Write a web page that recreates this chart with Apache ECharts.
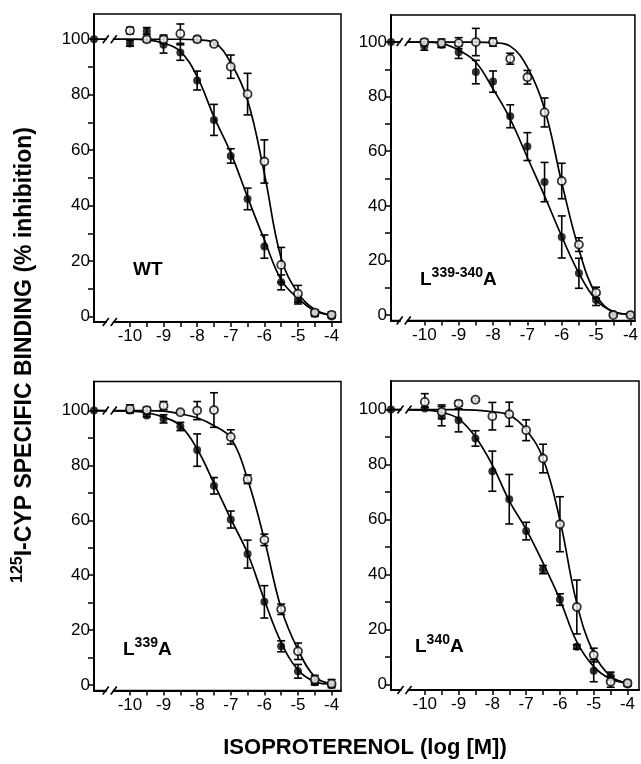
<!DOCTYPE html>
<html><head><meta charset="utf-8">
<script src="https://cdn.jsdelivr.net/npm/echarts@6/dist/echarts.min.js"></script>
<style>html,body{margin:0;padding:0;background:#fff}#c{width:641px;height:764px}</style>
</head><body><div id="c"></div>
<script>
// ---------- DATA ----------
const concLog = [-10, -9.5, -9, -8.5, -8, -7.5, -7, -6.5, -6, -5.5, -5, -4.5, -4];
const xTickLabels = [-10, -9, -8, -7, -6, -5, -4];
const xTickMarks = [-10, -9.5, -9, -8.5, -8, -7.5, -7, -6.5, -6, -5.5, -5, -4.5, -4];
const yTickLabels = [0, 20, 40, 60, 80, 100];
const yTickMarks = [0, 10, 20, 30, 40, 50, 60, 70, 80, 90, 100];
const controlValue = 100;

const panelMain = ['WT', 'L', 'L', 'L'];
const panelSup = ['', '339-340', '339', '340'];
const panelSuffix = ['', 'A', 'A', 'A'];

// WT
const wtFilled    = [98.5, 103, 98, 95.2, 85.1, 70.9, 57.9, 42.4, 25.2, 12.3, 6, 1, 0];
const wtFilledErr = [1, 1.2, 3, 2.8, 3.4, 5.6, 2.6, 3.9, 4.2, 2.7, 1.5, 1, 0.5];
const wtOpen      = [103.1, 100, 100, 102, 100, 98.3, 90.1, 80.2, 55.9, 18.6, 8.2, 1.4, 0.6];
const wtOpenErr   = [1.2, 1, 1.5, 3.5, 1, 0.5, 4.2, 7.5, 7.8, 6.3, 3, 1, 1];
const wtFilledFit = [100, 99.8, 98.6, 95.6, 86.5, 72, 59, 43, 27.6, 13.2, 6.5, 2, 0.5];
const wtOpenFit   = [100, 100, 100, 100, 99.8, 98.8, 91.5, 78, 51.5, 21, 8.4, 2.5, 0.5];

// L339-340A
const dFilled    = [98.5, 99, 96.3, 89, 85.5, 72.8, 61.7, 48.7, 28.6, 15.3, 5.5, 0.4, 0];
const dFilledErr = [1.5, 1, 2.3, 4.3, 3.9, 4.2, 5.1, 7.2, 7.7, 5.5, 2, 0.5, 0.5];
const dOpen      = [100, 99.6, 99.6, 100, 100, 93.9, 87.1, 74.2, 49.1, 25.8, 8.2, 0, 0];
const dOpenErr   = [1, 1.5, 2, 5, 1.5, 2, 2.5, 5.3, 6.5, 2.5, 2, 0.5, 0.5];
const dFilledFit = [100, 99.5, 97, 92.6, 82.8, 71.8, 57.7, 43.6, 28.8, 15.3, 5.5, 1.2, 0.3];
const dOpenFit   = [100, 100, 100, 100, 99.8, 98.5, 90.8, 75.5, 48.5, 24, 7.4, 1.2, 0.3];

// L339A
const aFilled    = [100, 98.2, 97, 94.2, 85.6, 72.6, 60.3, 47.7, 30.3, 14.1, 5, 1, 0];
const aFilledErr = [0.5, 0.5, 1.5, 1.5, 5.9, 3, 3.1, 5.1, 5.9, 2, 2.5, 1, 0.5];
const aOpen      = [100.6, 100.2, 101.8, 99.4, 100, 100.2, 90.4, 75, 52.9, 27.6, 12.3, 2, 0.5];
const aOpenErr   = [1.5, 1, 1.5, 0.5, 3.3, 6.3, 2.6, 1.6, 2.1, 1.9, 3, 1.5, 1.5];
const aFilledFit = [99.8, 99.2, 97.6, 94.5, 86, 73.5, 60.5, 48, 31, 15.5, 5.5, 1.2, 0.3];
const aOpenFit   = [100, 100, 99.8, 98.8, 97.4, 94.5, 90, 75, 53, 27.9, 12.9, 3, 0.5];

// L340A
const bFilled    = [100.4, 97.6, 96.1, 89.5, 77.6, 67.4, 55.8, 41.8, 30.9, 13.7, 5, 3, 0];
const bFilledErr = [0.5, 3.5, 4.2, 2.8, 7.3, 9, 3.2, 1.5, 2.1, 0.8, 4, 1.5, 0.5];
const bOpen      = [102.8, 99.2, 102.2, 103.6, 97.6, 98.3, 92.5, 82.2, 58.3, 28.2, 10.7, 1, 0.5];
const bOpenErr   = [3, 2.5, 1, 0.5, 5, 4.4, 3.8, 5.2, 10, 9.8, 2.5, 2, 1];
const bFilledFit = [99.8, 99, 96.6, 90, 79.8, 66.8, 56.4, 44.2, 30.9, 15.5, 6.5, 2, 0.5];
const bOpenFit   = [100, 100, 100, 99.8, 99.2, 98, 92.7, 82.2, 59.8, 29.5, 11.3, 3, 0.5];

// ---------- LAYOUT ----------
const FONT = '"Liberation Sans", Arial, Helvetica, sans-serif';
const layouts = [
  {left: 94,  top: 14,    width: 247, height: 308, xMin: -11.07, xMax: -3.72, yMax: 109.1, lx: 133, ly: 272},
  {left: 391, top: 15,    width: 248, height: 305.5, xMin: -10.97, xMax: -3.87, yMax: 109.9, lx: 420, ly: 278},
  {left: 94,  top: 381.5, width: 247, height: 309, xMin: -11.07, xMax: -3.72, yMax: 110.6, lx: 123, ly: 648},
  {left: 391, top: 381,   width: 248, height: 309, xMin: -11.0, xMax: -3.66, yMax: 110.4, lx: 415, ly: 645}
];
const yMin = -2;
const breakX = -10.6;

const panelData = [
  {f: wtFilled, fe: wtFilledErr, o: wtOpen, oe: wtOpenErr, ff: wtFilledFit, of: wtOpenFit},
  {f: dFilled, fe: dFilledErr, o: dOpen, oe: dOpenErr, ff: dFilledFit, of: dOpenFit},
  {f: aFilled, fe: aFilledErr, o: aOpen, oe: aOpenErr, ff: aFilledFit, of: aOpenFit},
  {f: bFilled, fe: bFilledErr, o: bOpen, oe: bOpenErr, ff: bFilledFit, of: bOpenFit}
];

function pairs(ys) { return concLog.map((x, k) => [x, ys[k]]); }
function triples(ys, es) { return concLog.map((x, k) => [x, ys[k], es[k]]); }

function errRender(params, api) {
  const x = api.value(0), y = api.value(1), e = api.value(2);
  const lo = api.coord([x, y - e]), hi = api.coord([x, y + e]);
  const w = 4;
  const st = {stroke: '#000', lineWidth: 1.6};
  return {type: 'group', children: [
    {type: 'line', shape: {x1: lo[0], y1: lo[1], x2: hi[0], y2: hi[1]}, style: st},
    {type: 'line', shape: {x1: lo[0] - w, y1: lo[1], x2: lo[0] + w, y2: lo[1]}, style: st},
    {type: 'line', shape: {x1: hi[0] - w, y1: hi[1], x2: hi[0] + w, y2: hi[1]}, style: st}
  ]};
}
function breakRender(params, api) {
  const p = api.coord([api.value(0), api.value(1)]);
  const st = {stroke: '#000', lineWidth: 1.6};
  return {type: 'group', children: [
    {type: 'rect', shape: {x: p[0] - 3, y: p[1] - 3, width: 6, height: 6}, style: {fill: '#fff'}},
    {type: 'line', shape: {x1: p[0] - 7, y1: p[1] + 4, x2: p[0] - 1, y2: p[1] - 4}, style: st},
    {type: 'line', shape: {x1: p[0] + 1, y1: p[1] + 4, x2: p[0] + 7, y2: p[1] - 4}, style: st}
  ]};
}

const grids = [], xAxes = [], yAxes = [], series = [], graphics = [];
layouts.forEach((L, i) => {
  grids.push({left: L.left, top: L.top, width: L.width, height: L.height,
    show: true, borderColor: '#000', borderWidth: 1.5, backgroundColor: 'transparent'});
  xAxes.push({type: 'value', gridIndex: i, min: L.xMin, max: L.xMax,
    axisLine: {onZero: false, lineStyle: {color: '#000', width: 2}},
    axisTick: {customValues: xTickMarks, length: 5, lineStyle: {color: '#000', width: 1.5}},
    axisLabel: {customValues: xTickLabels, color: '#000', fontSize: 17, fontFamily: FONT, margin: 6},
    splitLine: {show: false}});
  yAxes.push({type: 'value', gridIndex: i, min: yMin, max: L.yMax,
    axisLine: {show: true, onZero: false, lineStyle: {color: '#000', width: 2}},
    axisTick: {show: true, customValues: yTickMarks, length: 6, lineStyle: {color: '#000', width: 1.5}},
    axisLabel: {customValues: yTickLabels, color: '#000', fontSize: 17, fontFamily: FONT, margin: 4},
    splitLine: {show: false}});
  const D = panelData[i];
  const lineStyle = {color: '#000', width: 1.7};
  series.push({type: 'line', xAxisIndex: i, yAxisIndex: i, data: [[L.xMin, controlValue]].concat(pairs(D.ff)),
    showSymbol: false, smooth: 0.4, lineStyle, z: 2, silent: true});
  series.push({type: 'line', xAxisIndex: i, yAxisIndex: i, data: [[L.xMin, controlValue]].concat(pairs(D.of)),
    showSymbol: false, smooth: 0.4, lineStyle, z: 2, silent: true});
  series.push({type: 'custom', xAxisIndex: i, yAxisIndex: i, data: triples(D.f, D.fe),
    renderItem: errRender, encode: {x: 0, y: 1}, z: 3, clip: false});
  series.push({type: 'custom', xAxisIndex: i, yAxisIndex: i, data: triples(D.o, D.oe),
    renderItem: errRender, encode: {x: 0, y: 1}, z: 3, clip: false});
  series.push({type: 'scatter', xAxisIndex: i, yAxisIndex: i, data: [[L.xMin, controlValue]].concat(pairs(D.f)),
    symbol: 'circle', symbolSize: 8, itemStyle: {color: '#000'}, z: 4, clip: false});
  series.push({type: 'scatter', xAxisIndex: i, yAxisIndex: i, data: pairs(D.o),
    symbol: 'circle', symbolSize: 8, itemStyle: {color: '#fff', borderColor: '#000', borderWidth: 1.8}, z: 5, clip: false});
  series.push({type: 'custom', xAxisIndex: i, yAxisIndex: i, data: [[breakX, yMin], [breakX, controlValue]],
    renderItem: breakRender, encode: {x: 0, y: 1}, z: 6, clip: false});

  const txt = panelSup[i] ? '{m|' + panelMain[i] + '}{s|' + panelSup[i] + '}{m|' + panelSuffix[i] + '}' : '{m|' + panelMain[i] + '}';
  graphics.push({type: 'text', left: L.lx, top: L.ly - 12, z: 10,
    style: {text: txt, fill: '#000',
      rich: {m: {fontSize: 19, fontWeight: 'bold', fontFamily: FONT, fill: '#000', lineHeight: 23, verticalAlign: 'bottom'},
             s: {fontSize: 14, fontWeight: 'bold', fontFamily: FONT, fill: '#000', lineHeight: 23, verticalAlign: 'top'}}}});
});

graphics.push({type: 'text', x: 23, y: 355, rotation: Math.PI / 2, z: 10,
  style: {text: '{s|125}{m|I-CYP SPECIFIC BINDING (% inhibition)}', align: 'center', verticalAlign: 'middle', fill: '#000',
    rich: {m: {fontSize: 23, fontWeight: 'bold', fontFamily: FONT, fill: '#000', lineHeight: 27, verticalAlign: 'bottom'},
           s: {fontSize: 16, fontWeight: 'bold', fontFamily: FONT, fill: '#000', lineHeight: 27, verticalAlign: 'top'}}}});
graphics.push({type: 'text', x: 365, y: 748, z: 10,
  style: {text: 'ISOPROTERENOL (log [M])', align: 'center', verticalAlign: 'middle', fill: '#000',
    fontSize: 22, fontWeight: 'bold', fontFamily: FONT}});

const chart = echarts.init(document.getElementById('c'), null, {renderer: 'canvas'});
chart.setOption({animation: false, backgroundColor: '#fff',
  grid: grids, xAxis: xAxes, yAxis: yAxes, series, graphic: graphics});
</script></body></html>
